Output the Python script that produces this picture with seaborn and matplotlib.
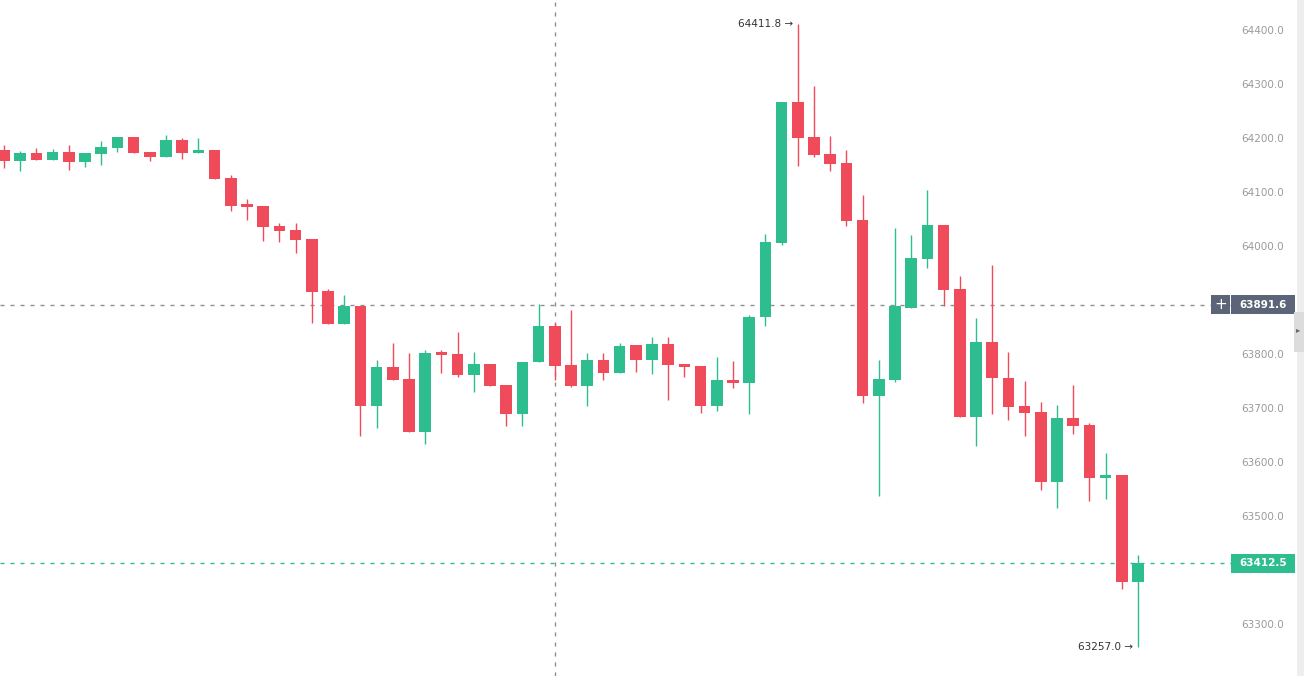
import matplotlib
matplotlib.use("Agg")
import matplotlib.pyplot as plt
import matplotlib.transforms as mtransforms
from matplotlib.patches import Rectangle
import seaborn as sns

# --- OHLC data (71 candles) ---
opens = [64178, 64157, 64172, 64160, 64174, 64155, 64171, 64182, 64202, 64174,
         64165, 64196, 64173, 64178, 64126, 64076, 64074, 64037, 64030, 64013,
         63917, 63856, 63888, 63704, 63776, 63754, 63656, 63802, 63800, 63762,
         63781, 63743, 63689, 63785, 63852, 63780, 63741, 63789, 63765, 63817,
         63788, 63819, 63781, 63777, 63704, 63752, 63747, 63868, 64006, 64267,
         64202, 64170, 64154, 64048, 63722, 63752, 63886, 63976, 64039, 63920,
         63683, 63822, 63755, 63704, 63692, 63563, 63681, 63669, 63570, 63575,
         63378]
highs = [64187, 64176, 64181, 64180, 64187, 64172, 64194, 64202, 64202, 64174,
         64206, 64200, 64200, 64178, 64131, 64087, 64074, 64043, 64043, 64013,
         63920, 63909, 63888, 63789, 63821, 63802, 63807, 63807, 63841, 63804,
         63781, 63743, 63786, 63893, 63857, 63881, 63802, 63802, 63821, 63817,
         63831, 63831, 63781, 63777, 63795, 63787, 63872, 64022, 64267, 64411.8,
         64297, 64204, 64177, 64094, 63789, 64033, 64020, 64104, 64039, 63944,
         63867, 63965, 63803, 63750, 63711, 63705, 63743, 63673, 63617, 63575,
         63428]
lows = [64144, 64139, 64160, 64160, 64141, 64146, 64150, 64174, 64173, 64157,
        64165, 64162, 64173, 64125, 64065, 64049, 64010, 64008, 63987, 63857,
        63856, 63856, 63649, 63663, 63752, 63656, 63633, 63764, 63757, 63729,
        63741, 63667, 63667, 63785, 63752, 63738, 63704, 63752, 63765, 63767,
        63763, 63715, 63757, 63691, 63695, 63737, 63689, 63851, 64001, 64148,
        64165, 64138, 64037, 63710, 63537, 63749, 63886, 63960, 63889, 63683,
        63629, 63688, 63678, 63648, 63548, 63514, 63651, 63528, 63531, 63364,
        63257]
closes = [64157, 64172, 64160, 64174, 64155, 64172, 64183, 64202, 64173, 64165,
          64196, 64173, 64178, 64125, 64075, 64073, 64036, 64028, 64012, 63915,
          63856, 63888, 63704, 63776, 63752, 63656, 63802, 63799, 63762, 63781,
          63741, 63689, 63786, 63852, 63778, 63741, 63789, 63765, 63815, 63788,
          63819, 63780, 63776, 63704, 63752, 63747, 63868, 64007, 64267, 64200,
          64168, 64152, 64047, 63722, 63754, 63888, 63978, 64039, 63919, 63683,
          63822, 63756, 63702, 63691, 63563, 63681, 63667, 63570, 63575, 63378,
          63412.5]

price_ticks = [64400, 64300, 64200, 64100, 64000, 63800, 63700, 63600, 63500, 63300]
crosshair_idx = 34
crosshair_price = 63891.6
last_price = closes[-1]
max_idx = 49
min_idx = 70

GREEN = "#2dbd8e"
RED = "#ef4b5a"
DASH = (0, (2.9, 4.3))

sns.set_theme(style="white")
plt.rcParams['font.family'] = ['DejaVu Sans']

W, H = 1304, 676
fig = plt.figure(figsize=(W / 100, H / 100), dpi=100)
ax_right = 1232 / W
ax = fig.add_axes([0, 0, ax_right, 1])

step = 16.2  # px per candle
x0 = 4       # px of first candle center
ax.set_xlim(-x0 / step, (1232 - x0) / step)
ax.set_ylim(64455.6 - 1.852 * H, 64455.6)

n = len(opens)
px_price = 1.852  # price units per pixel
for i in range(n):
    o, h, l, c = opens[i], highs[i], lows[i], closes[i]
    col = GREEN if c >= o else RED
    ax.vlines(i, l, h, color=col, linewidth=1.0, zorder=2)
    bottom = min(o, c)
    height = max(abs(c - o), 2.5 * px_price)
    ax.add_patch(Rectangle((i - 0.36, bottom), 0.72, height, facecolor=col,
                           edgecolor=col, linewidth=0, zorder=3))

# crosshair
ax.axvline(crosshair_idx, color="#8f8f8f", linestyle=DASH, linewidth=1.0, zorder=1)
ax.axhline(crosshair_price, color="#8f8f8f", linestyle=DASH, linewidth=1.0, zorder=1)
# last price line
ax.axhline(last_price, color=GREEN, linestyle=DASH, linewidth=1.0, zorder=1)

# high / low annotations
ax.text(max_idx - 0.3, highs[max_idx], "64411.8 →", ha="right", va="center",
        fontsize=7.5, color="#333333")
ax.text(min_idx - 0.3, lows[min_idx], "63257.0 →", ha="right", va="center",
        fontsize=7.5, color="#333333")

# price axis on the right
ax.yaxis.tick_right()
ax.set_yticks(price_ticks)
ax.set_yticklabels([f"{p:.1f}" for p in price_ticks])
ax.tick_params(axis="y", length=0, pad=7, labelsize=7.5, labelcolor="#9a9a9a")
ax.set_xticks([])
for s in ax.spines.values():
    s.set_visible(False)
ax.grid(False)

# price label boxes
trans = mtransforms.blended_transform_factory(fig.transFigure, ax.transData)
box_h = 19 * px_price
fig.patches.append(Rectangle((1211 / W, crosshair_price - box_h / 2), 19 / W, box_h,
                             transform=trans, facecolor="#5b6577", edgecolor="none",
                             figure=fig))
fig.patches.append(Rectangle((1231 / W, crosshair_price - box_h / 2), 64 / W, box_h,
                             transform=trans, facecolor="#5b6577", edgecolor="none",
                             figure=fig))
fig.text(1220.5 / W, crosshair_price, "+", transform=trans, ha="center", va="center",
         color="white", fontsize=11)
fig.text(1263 / W, crosshair_price, f"{crosshair_price:.1f}", transform=trans,
         ha="center", va="center", color="white", fontsize=7.5, fontweight="bold")

fig.patches.append(Rectangle((1231 / W, last_price - box_h / 2), 64 / W, box_h,
                             transform=trans, facecolor=GREEN, edgecolor="none",
                             figure=fig))
fig.text(1263 / W, last_price, f"{last_price:.1f}", transform=trans,
         ha="center", va="center", color="white", fontsize=7.5, fontweight="bold")
# extend last-price dashes up to its box
fig.add_artist(plt.Line2D([ax_right - 2 / W, 1231 / W], [last_price, last_price],
                          transform=trans, color=GREEN, linestyle=DASH, linewidth=1.0))

# right edge panel strip
fig.patches.append(Rectangle((1297 / W, 0), 7 / W, 1, transform=fig.transFigure,
                             facecolor="#eeeeee", edgecolor="none", figure=fig))
fig.patches.append(Rectangle((1294 / W, 1 - 352 / H), 10 / W, 40 / H,
                             transform=fig.transFigure, facecolor="#dcdcdc",
                             edgecolor="none", figure=fig))
fig.text(1298.5 / W, 1 - 330 / H, "▸", ha="center", va="center", color="#666666",
         fontsize=6)

fig.savefig("out.png", dpi=100)
